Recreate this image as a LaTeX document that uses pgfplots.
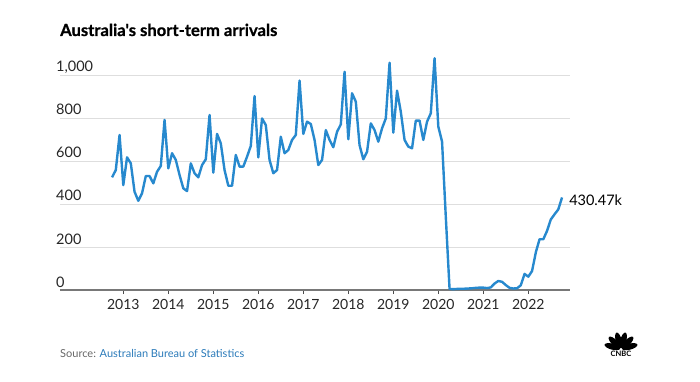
\documentclass[border=0pt]{standalone}
\usepackage{pgfplots}
\pgfplotsset{compat=1.18}
\usepackage{pgfplotstable}
\usepackage{fontspec}
\setmainfont{Lato}
\newfontfamily\titlefont{Lato}
\definecolor{lineblue}{RGB}{39,137,206}
\definecolor{srcblue}{RGB}{42,122,185}
\definecolor{gridgray}{RGB}{222,222,222}
\definecolor{axisgray}{RGB}{120,120,120}
\pgfplotstableread{
k v
-3 524
-2 558
-1 721
0 488
1 617
2 589
3 457
4 415
5 450
6 530
7 530
8 496
9 550
10 577
11 791
12 566
13 636
14 605
15 535
16 473
17 460
18 589
19 543
20 524
21 581
22 608
23 814
24 546
25 726
26 682
27 558
28 485
29 485
30 628
31 574
32 574
33 620
34 670
35 902
36 617
37 798
38 767
39 605
40 543
41 558
42 713
43 636
44 651
45 698
46 721
47 974
48 726
49 783
50 772
51 698
52 581
53 605
54 744
55 698
56 664
57 736
58 770
59 1015
60 701
61 915
62 876
63 674
64 608
65 643
66 775
67 744
68 690
69 752
70 798
71 1057
72 732
73 927
74 829
75 698
76 667
77 659
78 788
79 788
80 698
81 783
82 822
83 1078
84 760
85 690
86 340
87 5
88 4
89 5
90 6
91 6
92 7
93 8
94 10
95 11
96 11
97 9
98 12
99 30
100 42
101 38
102 23
103 10
104 7
105 8
106 22
107 75
108 62
109 88
110 175
111 236
112 236
113 275
114 328
115 352
116 375
117 430.47
}\arrivals
\begin{document}
\begin{tikzpicture}
\path[use as bounding box] (0,0) rectangle (700bp,382bp);
\begin{axis}[
  at={(60bp,92bp)}, anchor=south west,
  scale only axis, width=510bp, height=236.5bp,
  xmin=-16.88, xmax=119.12, ymin=0, ymax=1100,
  axis line style={draw=none},
  xtick={0,12,...,108},
  xticklabels={2013,2014,2015,2016,2017,2018,2019,2020,2021,2022},
  ytick={0,200,...,1000},
  yticklabels={0,200,400,600,800,{1,000}},
  xtick pos=left, ytick pos=left,
  tick align=outside, major tick length=4bp,
  xtick style={draw=black!70, line width=1bp},
  ytick style={draw=none},
  ymajorgrids, major grid style={draw=gridgray, line width=0.9bp},
  /pgf/number format/assume math mode=true,
  xticklabel style={font=\fontsize{14bp}{16bp}\selectfont, text=black!85, anchor=north, yshift=-2bp},
  yticklabel style={font=\fontsize{14.5bp}{16bp}\selectfont, text=black!85, anchor=base west, inner sep=0pt, yshift=3bp},
  clip=false,
]
\draw[axisgray, line width=1.2bp] (rel axis cs:0,0) -- (rel axis cs:1,0);
\addplot[color=lineblue, line width=2.4bp, line join=round, mark=none] table[x=k, y=v] {\arrivals};
\node[anchor=west, inner sep=0pt, xshift=7bp, yshift=-3bp, font=\fontsize{14.5bp}{16bp}\selectfont] at (axis cs:117,430.47) {430.47k};
\end{axis}
\node[anchor=base west, inner sep=0pt, font=\titlefont\bfseries\fontsize{16.6bp}{19bp}\selectfont\addfontfeature{FakeBold=0.8}] at (60bp,346bp) {Australia's short-term arrivals};
\node[anchor=base west, inner sep=0pt, font=\fontsize{11bp}{13bp}\selectfont] at (60bp,25bp) {\textcolor{black!60}{Source:} \textcolor{srcblue}{Australian Bureau of Statistics}};
\foreach \a in {15,45,75,105,135,165}{
  \fill[black, rotate around={\a-90:(621bp,33bp)}] (621bp,42bp) ellipse (3bp and 8bp);
}
\node[inner sep=0pt, font=\bfseries\fontsize{7.5bp}{8bp}\selectfont] at (621bp,28bp) {CNBC};
\end{tikzpicture}
\end{document}
